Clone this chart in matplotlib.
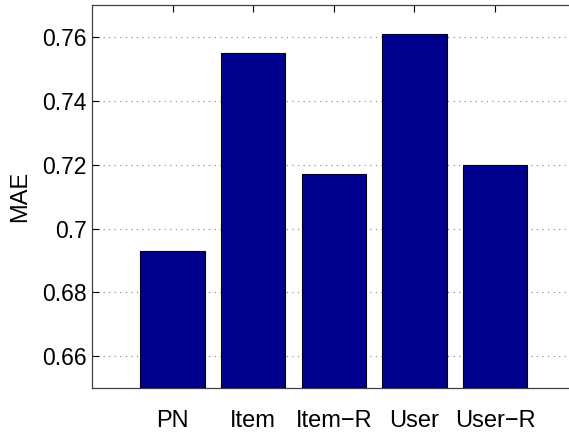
import matplotlib.pyplot as plt

categories = ["PN", "Item", "Item\u2212R", "User", "User\u2212R"]
mae = [0.693, 0.755, 0.717, 0.761, 0.720]
yticks = [0.66, 0.68, 0.70, 0.72, 0.74, 0.76]
ytick_labels = ["0.66", "0.68", "0.7", "0.72", "0.74", "0.76"]

plt.rcParams["font.family"] = ["Liberation Sans", "DejaVu Sans"]

fig = plt.figure(figsize=(5.69, 4.37), dpi=100)
ax = fig.add_axes([0.1617, 0.1121, 0.85, 0.8757])

pos = list(range(1, len(categories) + 1))
ax.bar(pos, mae, width=0.8, color="#00008f", edgecolor="black", linewidth=0.8, zorder=3)

ax.set_xlim(0, 6)
ax.set_ylim(0.65, 0.77)
ax.set_xticks(pos)
ax.set_xticklabels(categories, fontsize=17)
ax.set_yticks(yticks)
ax.set_yticklabels(ytick_labels, fontsize=16.5)
ax.set_ylabel("MAE", fontsize=17, labelpad=8)

ax.yaxis.grid(True, linestyle=(0, (1, 4)), color="#808080", linewidth=0.8, zorder=0)
ax.tick_params(axis="x", direction="in", top=True, length=5, pad=16)
ax.tick_params(axis="y", direction="in", right=True, length=5, pad=4)
for s in ax.spines.values():
    s.set_color("#404040")
    s.set_linewidth(0.9)

fig.savefig("out.png", dpi=100)
